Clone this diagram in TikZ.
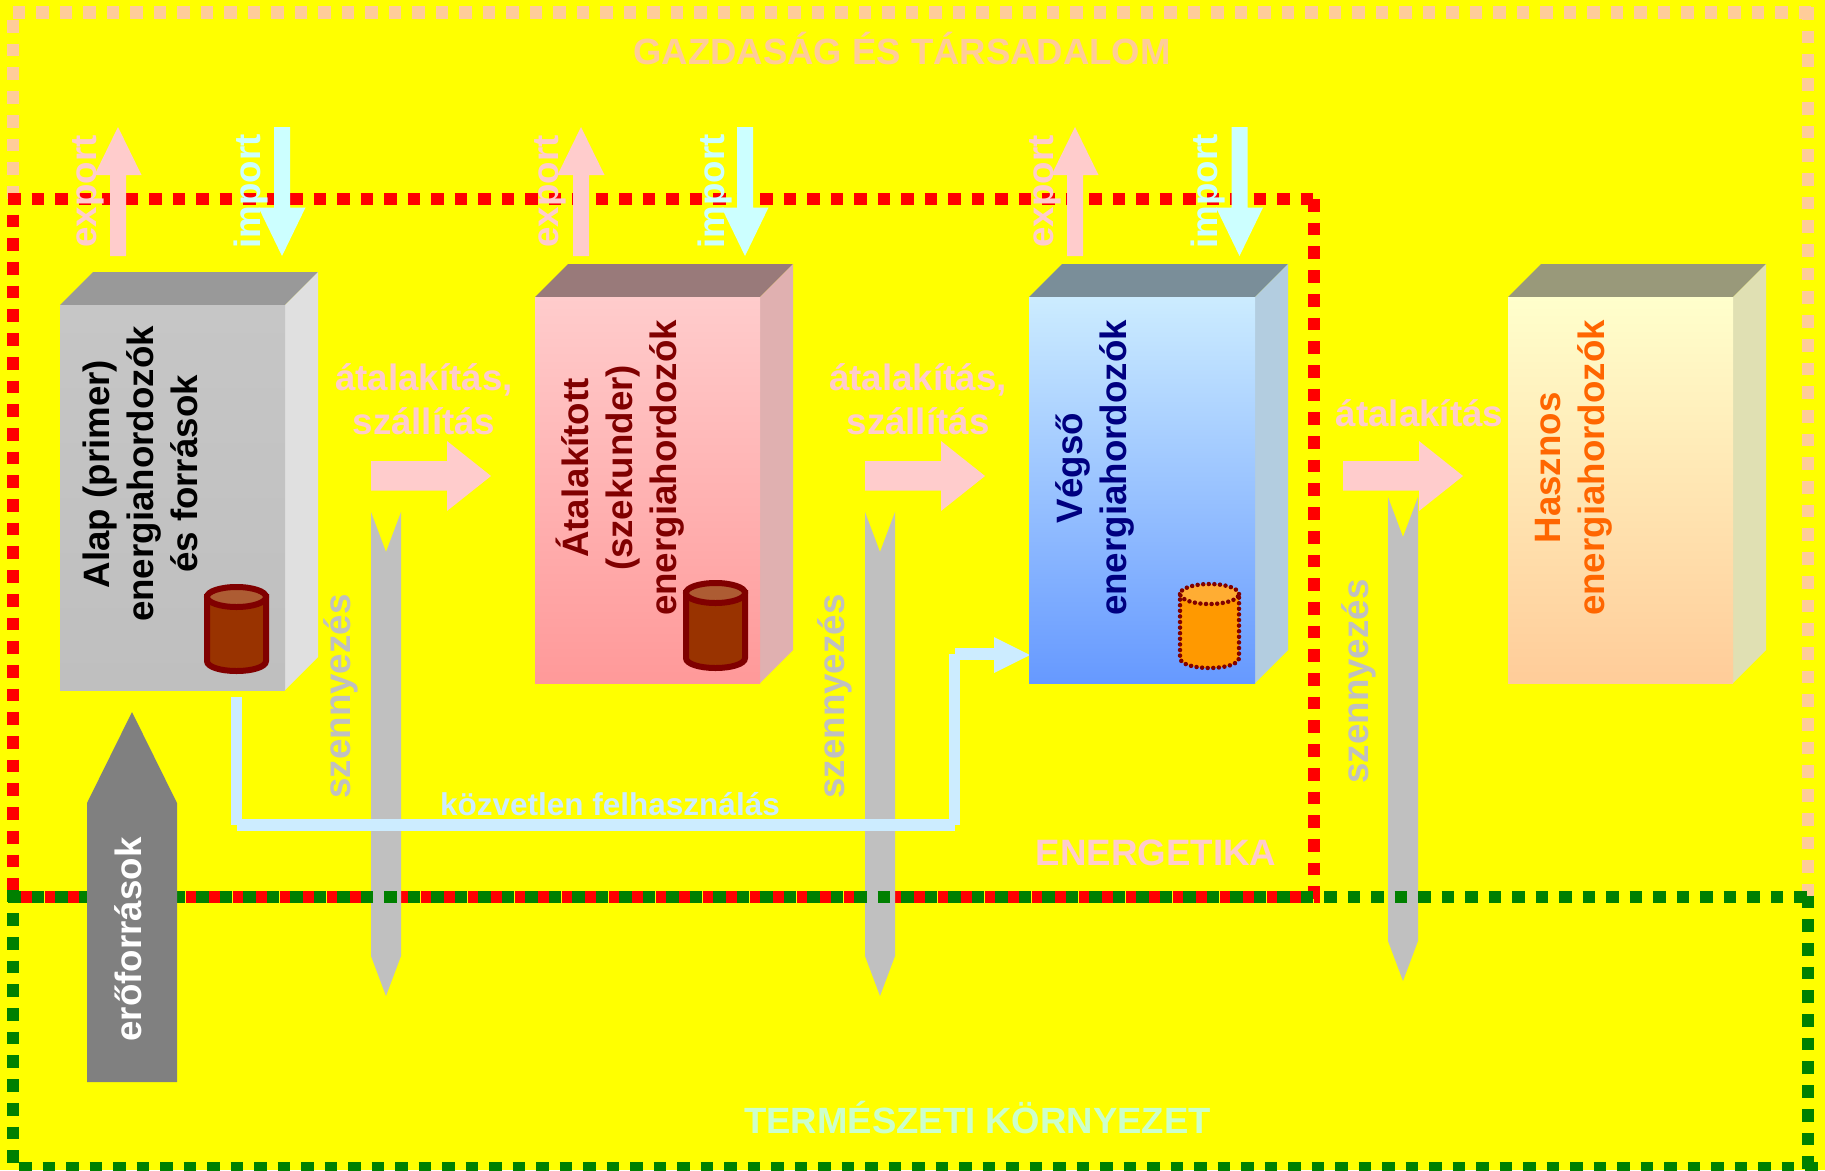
\documentclass[tikz,border=0pt]{standalone}
\usepackage{fontspec}
\setmainfont{Liberation Sans}
\definecolor{bgyellow}{HTML}{FFFF00}
\definecolor{peach}{HTML}{FFCC99}
\definecolor{redline}{HTML}{FF0000}
\definecolor{greenline}{HTML}{008000}
\definecolor{rose}{HTML}{FFCCCC}
\definecolor{icy}{HTML}{CCFFFF}
\definecolor{skyline}{HTML}{CCECFF}
\definecolor{mint}{HTML}{CCFFCC}
\definecolor{silver}{HTML}{C0C0C0}
\definecolor{dimgray}{HTML}{808080}
\definecolor{maroon}{HTML}{800000}
\definecolor{navy}{HTML}{000080}
\definecolor{flame}{HTML}{FF6600}
\definecolor{barrelfill}{HTML}{993300}
\definecolor{barrelcap}{HTML}{AD5C33}
\definecolor{tankfill}{HTML}{FF9900}
\definecolor{tankcap}{HTML}{FFAD33}
\definecolor{lidgray}{HTML}{999999}
\definecolor{sidegray}{HTML}{E0E0E0}
\definecolor{frontgray}{HTML}{C6C6C6}
\definecolor{deepgray}{HTML}{BFBFBF}
\definecolor{lidrose}{HTML}{997A7A}
\definecolor{siderose}{HTML}{E0B0B0}
\definecolor{deeprose}{HTML}{FF9999}
\definecolor{lidsky}{HTML}{7A8E99}
\definecolor{sidesky}{HTML}{B3CDE0}
\definecolor{deepsky}{HTML}{6699FF}
\definecolor{lidcream}{HTML}{99997A}
\definecolor{sidecream}{HTML}{E0E0B3}
\definecolor{cream}{HTML}{FFFFCC}
\tikzset{
  hframe/.style={line width=12.5pt, dash pattern=on 12.5pt off 11pt},
  vframe/.style={line width=12.5pt, dash pattern=on 12.7pt off 11pt},
  txt/.style={font=\bfseries\fontsize{36.7}{44}\selectfont, inner sep=0pt},
  flat/.style={txt, anchor=base, align=center},
  title/.style={flat, font=\bfseries\fontsize{36.5}{44}\selectfont},
  uptxt/.style={txt, rotate=90, anchor=base},
  boxtxt/.style={txt, rotate=90, align=center},
  feed/.style={draw=skyline, line width=11.5pt},
  barrel/.style={draw=maroon, line width=6pt},
  tank/.style={draw=maroon, line width=4.5pt, line cap=round, dash pattern=on 0pt off 5.6pt}
}
\newcommand{\DrawBox}[8]{% left,top,right,bottom, lid, side, front top, front bottom
  \fill[#5] (#1,#2) -- ++(33,-33) -- (#3+33,#2-33) -- (#3,#2) -- cycle;
  \fill[#6] (#3,#2) -- ++(33,-33) -- (#3+33,#4-33) -- (#3,#4) -- cycle;
  \fill[top color=#7, bottom color=#8] (#1,#2) rectangle (#3,#4);
}
\newcommand{\DrawBarrel}[6]{% centre,top,bottom, body, cap, style
  \filldraw[#6, fill=#4] (#1-29.5,#2+10) -- (#1-29.5,#3-10) .. controls (#1-29.5,#3-4) and (#1-16,#3) .. (#1,#3)
    .. controls (#1+16,#3) and (#1+29.5,#3-4) .. (#1+29.5,#3-10) -- (#1+29.5,#2+10) -- cycle;
  \filldraw[#6, fill=#5] (#1,#2+10) ellipse [x radius=29.5pt, y radius=10pt];
}
\newcommand{\UpArrow}[1]{%
  \fill[rose] (#1,127) -- (#1+23.5,175) -- (#1+8,175) -- (#1+8,256) -- (#1-8,256) -- (#1-8,175) -- (#1-23.5,175) -- cycle;
}
\newcommand{\DownArrow}[1]{%
  \fill[icy] (#1,256) -- (#1+23.5,207.5) -- (#1+8,207.5) -- (#1+8,127) -- (#1-8,127) -- (#1-8,207.5) -- (#1-23.5,207.5) -- cycle;
}
\newcommand{\RightArrow}[1]{%
  \fill[rose] (#1,461) -- (#1+76,461) -- (#1+76,441) -- (#1+120,476) -- (#1+76,511) -- (#1+76,490.5) -- (#1,490.5) -- cycle;
}
\newcommand{\WasteArrow}[2]{% left,top
  \fill[silver] (#1,#2) -- (#1+15,#2+40) -- (#1+30,#2) -- (#1+30,#2+444) -- (#1+15,#2+484) -- (#1,#2+444) -- cycle;
}
\begin{document}
\begin{tikzpicture}[x=1pt, y=-1pt]
  \fill[bgyellow] (0,0) rectangle (1825,1170);
  \useasboundingbox (0,0) rectangle (1825,1170);
  % society frame
  \draw[hframe, draw=peach] (12.5,12.5) -- (1814,12.5);
  \draw[vframe, draw=peach] (13,20) -- (13,199);
  \draw[vframe, draw=peach] (1808,7) -- (1808,898);
  % energy frame, gray arrows go over red and under green
  \draw[hframe, draw=redline] (8,199) -- (1320,199);
  \draw[vframe, draw=redline] (13,214.6) -- (13,900);
  \draw[vframe, draw=redline] (1314,199) -- (1314,903);
  \draw[hframe, draw=redline] (21,897) -- (1320,897);
  \WasteArrow{371}{512}
  \WasteArrow{865}{512}
  \WasteArrow{1388}{497}
  % nature frame
  \draw[hframe, draw=greenline] (8.2,897) -- (1814,897);
  \draw[vframe, draw=greenline] (13,889.5) -- (13,1163);
  \draw[vframe, draw=greenline] (1808,895.5) -- (1808,1170);
  \draw[hframe, draw=greenline] (19,1168) -- (1825,1168);
  % direct use line
  \coordinate (feedA) at (236.5,697);
  \coordinate (feedB) at (236.5,825);
  \coordinate (feedC) at (237,825);
  \coordinate (feedD) at (954.5,825);
  \coordinate (feedE) at (954.5,654);
  \coordinate (feedF) at (995,654);
  \draw[feed] (feedA) -- (feedB);
  \draw[feed] (feedC) -- (feedD);
  \draw[feed] (feedD) -- (feedE);
  \draw[feed] (955,654) -- (feedF);
  \fill[skyline] (994,637) -- (1030,655) -- (994,673) -- cycle;
  % boxes
  \DrawBox{60}{305}{285}{690}{lidgray}{sidegray}{frontgray}{deepgray}
  \DrawBox{535}{297}{760}{683}{lidrose}{siderose}{rose}{deeprose}
  \DrawBox{1029}{297}{1255}{683}{lidsky}{sidesky}{skyline}{deepsky}
  \DrawBox{1508}{297}{1733}{683}{lidcream}{sidecream}{cream}{peach}
  \node[boxtxt] (primary) at (140.5,474) {Alap (primer)\\energiahordozók\\és források};
  \node[boxtxt, text=maroon] (secondary) at (620.5,468) {Átalakított\\(szekunder)\\energiahordozók};
  \node[boxtxt, text=navy] (final) at (1094.5,468) {Végső\\energiahordozók};
  \node[boxtxt, text=flame] (useful) at (1573.5,468) {Hasznos\\energiahordozók};
  \DrawBarrel{236.5}{587}{671}{barrelfill}{barrelcap}{barrel}
  \DrawBarrel{715.5}{583}{668}{barrelfill}{barrelcap}{barrel}
  \DrawBarrel{1209.5}{584}{668}{tankfill}{tankcap}{tank}
  % trade arrows
  \UpArrow{118}
  \UpArrow{581}
  \UpArrow{1075}
  \DownArrow{282}
  \DownArrow{745}
  \DownArrow{1239.5}
  \node[uptxt, text=rose] (exportA) at (96,191.5) {export};
  \node[uptxt, text=rose] (exportB) at (558,191.5) {export};
  \node[uptxt, text=rose] (exportC) at (1053,191.5) {export};
  \node[uptxt, text=icy] (importA) at (260,191.5) {import};
  \node[uptxt, text=icy] (importB) at (724,191.5) {import};
  \node[uptxt, text=icy] (importC) at (1217,191.5) {import};
  % conversion
  \RightArrow{371}
  \RightArrow{865}
  \RightArrow{1343}
  \node[flat, text=rose] (convA) at (424,434) {átalakítás,\\szállítás};
  \node[flat, text=rose] (convB) at (918,434) {átalakítás,\\szállítás};
  \node[flat, text=rose] (convC) at (1419.5,426) {átalakítás};
  \node[uptxt, text=silver] (wasteA) at (350,696.5) {szennyezés};
  \node[uptxt, text=silver] (wasteB) at (844,696.5) {szennyezés};
  \node[uptxt, text=silver] (wasteC) at (1368,681.5) {szennyezés};
  \node[flat, text=skyline, font=\bfseries\fontsize{31.5}{38}\selectfont] (direct) at (610,815) {közvetlen felhasználás};
  % titles
  \node[title, text=peach] (society) at (902,64) {GAZDASÁG ÉS TÁRSADALOM};
  \node[flat, text=rose] (energy) at (1156,865) {ENERGETIKA};
  \node[title, text=mint] (nature) at (977.5,1133) {TERMÉSZETI KÖRNYEZET};
  % resources arrow lies over the frames
  \fill[dimgray] (132,712) -- (177,803) -- (177,1082) -- (87,1082) -- (87,803) -- cycle;
  \node[uptxt, text=white] (resources) at (141,939.5) {erőforrások};
\end{tikzpicture}
\end{document}
